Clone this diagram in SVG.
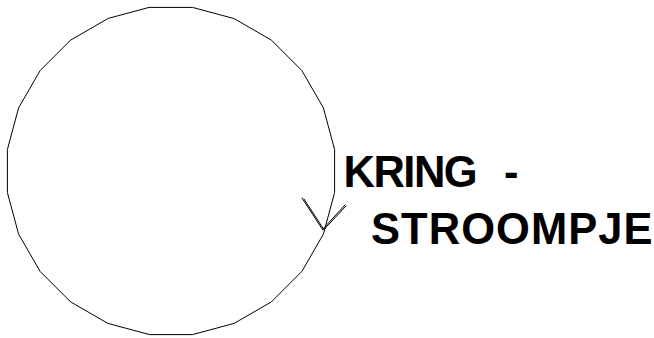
<svg xmlns="http://www.w3.org/2000/svg" width="654" height="338" viewBox="0 0 654 338">
<style>
.ln{fill:none;stroke:#000;stroke-width:1;stroke-linejoin:round;stroke-linecap:round}
.lbl{font-family:"Liberation Sans",Arial,sans-serif;font-size:43.5px;font-weight:bold;fill:#000}
</style>
<rect width="654" height="338" fill="#fff"/>
<g id="loop">
<polygon class="ln" points="149.5,7.4 192.5,7.4 234.1,18.6 271.4,40.1 301.9,70.6 323.4,107.9 334.6,149.5 334.6,192.5 323.4,234.1 301.9,271.4 271.4,301.9 234.1,323.4 192.5,334.6 149.5,334.6 107.9,323.4 70.6,301.9 40.1,271.4 18.6,234.1 7.4,192.5 7.4,149.5 18.6,107.9 40.1,70.6 70.6,40.1 107.9,18.6"/>
</g>
<g id="connectors">
<g id="arrow">
<line class="ln" x1="322.5" y1="229.5" x2="302" y2="198"/>
<line class="ln" x1="323.5" y1="229" x2="304" y2="199"/>
<line class="ln" x1="322.5" y1="229.5" x2="345" y2="205"/>
<line class="ln" x1="323.5" y1="230" x2="346" y2="206"/>
</g>
</g>
<g id="label">
<text class="lbl" x="343.5" y="187" textLength="134.2" lengthAdjust="spacing">KRING</text>
<text class="lbl" x="504" y="187">-</text>
<text class="lbl" x="371" y="243.5" textLength="281.6" lengthAdjust="spacing">STROOMPJE</text>
</g>
</svg>
